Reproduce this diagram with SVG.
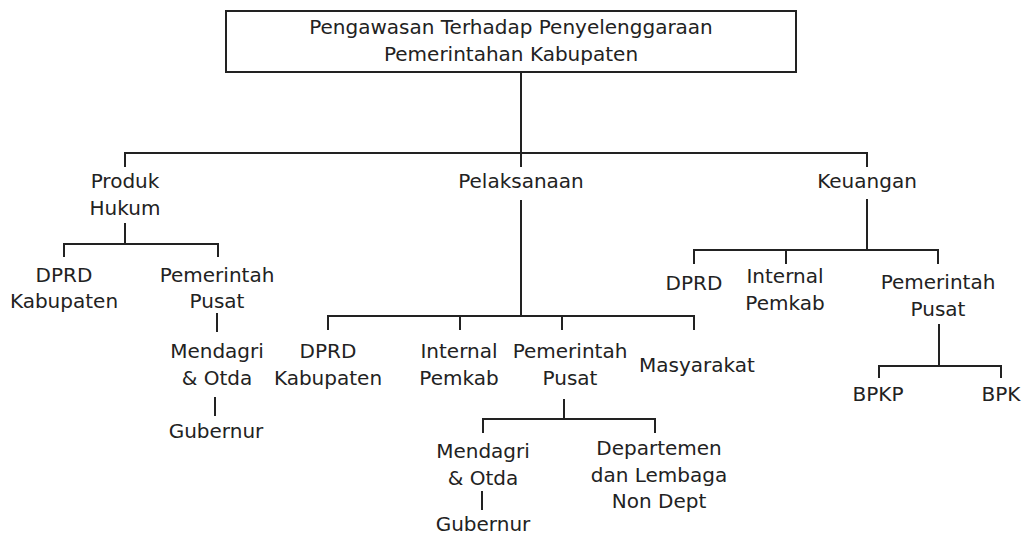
<svg xmlns="http://www.w3.org/2000/svg" width="1022" height="536" viewBox="0 0 1022 536">
<style>
text{font-family:"DejaVu Sans","Liberation Sans",sans-serif;font-size:20px;fill:#222;text-anchor:middle}
.ln{stroke:#222;stroke-width:2;fill:none;stroke-linecap:square}
.box{stroke:#222;stroke-width:2;fill:#fff}
</style>
<rect width="1022" height="536" fill="#fff"/>
<g id="connectors" class="ln">
<path d="M521 72V166M125 166V153H867V166"/>
<path d="M125 224V244M64 256V244H218V256"/>
<path d="M217 314V331M215 398V415"/>
<path d="M521 201V316M328 329V316H694V329M460 316V329M562 316V329"/>
<path d="M564 400V419M483 432V419H655V432"/>
<path d="M482 492V509"/>
<path d="M867 200V250M694 263V250H938V263M786 250V263"/>
<path d="M939 325V366M879 377V366H1001V377"/>
</g>
<g id="root"><rect class="box" x="226" y="11" width="570" height="61"/><text x="511" y="34">Pengawasan Terhadap Penyelenggaraan</text><text x="511" y="61">Pemerintahan Kabupaten</text></g>
<g id="produk-hukum"><text x="125" y="188">Produk</text><text x="125" y="215">Hukum</text></g>
<g id="pelaksanaan"><text x="521" y="188">Pelaksanaan</text></g>
<g id="keuangan"><text x="867" y="188">Keuangan</text></g>
<g id="ph-dprd"><text x="64" y="282">DPRD</text><text x="64" y="308">Kabupaten</text></g>
<g id="ph-pemerintah"><text x="217" y="282">Pemerintah</text><text x="217" y="308">Pusat</text></g>
<g id="ph-mendagri"><text x="217" y="358">Mendagri</text><text x="217" y="385">&amp; Otda</text></g>
<g id="ph-gubernur"><text x="216" y="438">Gubernur</text></g>
<g id="pl-dprd"><text x="328" y="358">DPRD</text><text x="328" y="385">Kabupaten</text></g>
<g id="pl-internal"><text x="459" y="358">Internal</text><text x="459" y="385">Pemkab</text></g>
<g id="pl-pemerintah"><text x="570" y="358">Pemerintah</text><text x="570" y="385">Pusat</text></g>
<g id="pl-masyarakat"><text x="697" y="372">Masyarakat</text></g>
<g id="pl-mendagri"><text x="483" y="458">Mendagri</text><text x="483" y="485">&amp; Otda</text></g>
<g id="pl-gubernur"><text x="483" y="531">Gubernur</text></g>
<g id="pl-departemen"><text x="659" y="455">Departemen</text><text x="659" y="482">dan Lembaga</text><text x="659" y="508">Non Dept</text></g>
<g id="k-dprd"><text x="694" y="290">DPRD</text></g>
<g id="k-internal"><text x="785" y="283">Internal</text><text x="785" y="310">Pemkab</text></g>
<g id="k-pemerintah"><text x="938" y="289">Pemerintah</text><text x="938" y="316">Pusat</text></g>
<g id="k-bpkp"><text x="878" y="401">BPKP</text></g>
<g id="k-bpk"><text x="1001" y="401">BPK</text></g>
</svg>
